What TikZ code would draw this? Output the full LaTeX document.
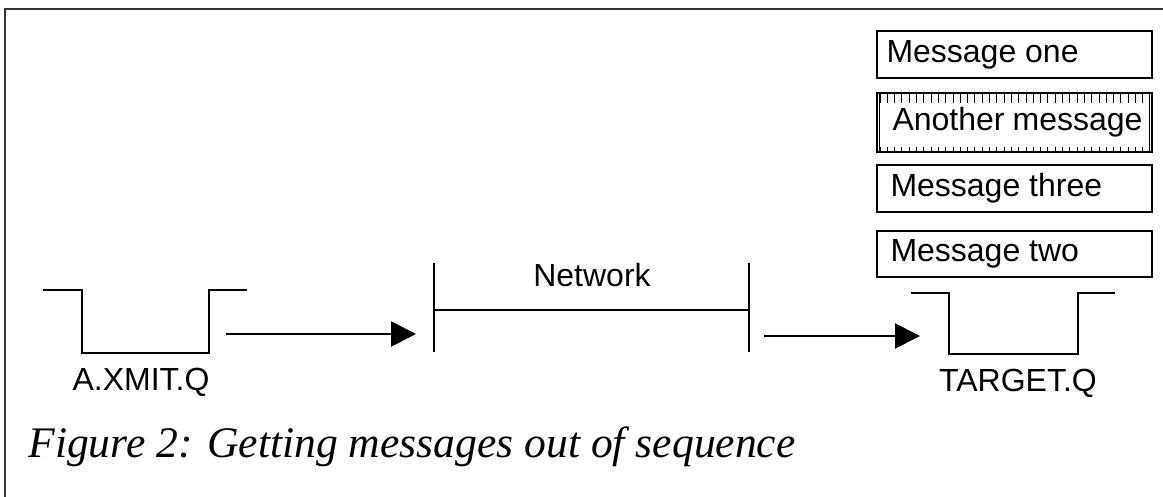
\documentclass[tikz,border=0pt]{standalone}
\usepackage{fontspec}
\setmainfont{Liberation Serif}
\setsansfont{Liberation Sans}
\usetikzlibrary{arrows.meta, positioning, calc}

\tikzset{
  msgbox/.style={draw, line width=1pt, minimum width=137.5pt, minimum height=23.5pt,
    text width=128pt, inner xsep=4.75pt, align=flush left, anchor=north},
  queue/.style={line width=1pt},
  flow/.style={line width=1pt, -{Triangle[length=12.5pt, width=12.5pt]}},
}

\begin{document}
\begin{tikzpicture}[x=0.5pt, y=-0.5pt, font=\sffamily\fontsize{16}{18}\selectfont]
                \useasboundingbox (0,0) rectangle (1163,497);
                % frame
                \draw[line width=1pt, black!80] (5,497) -- (5,9) -- (1163,9);

                % messages arriving at the target queue
                \node[msgbox] (msgone) at (1014.5,30) {Message one};
                \node[msgbox, minimum height=29.5pt, below=6.5pt of msgone] (msganother) {\hspace*{3pt}Another message};
                \node[msgbox, below=5.5pt of msganother] (msgthree) {\hspace*{2pt}Message three};
                \node[msgbox, minimum height=23pt, below=8.5pt of msgthree] (msgtwo) {\hspace*{2pt}Message two};
                % hatching of the out-of-sequence message
                \foreach \i in {0,...,36} {
                    \draw[line width=0.5pt] ($(msganother.north west)+(4+\i*7.3,0)$) -- ++(0,11);
                    \draw[line width=0.5pt] ($(msganother.south west)+(4+\i*7.3,0)$) -- ++(0,-6);
                }
                \draw[line width=0.5pt] ($(msganother.north west)+(3,0)$) -- ($(msganother.south west)+(3,0)$);
                \draw[line width=0.5pt] ($(msganother.north east)+(-4,0)$) -- ($(msganother.south east)+(-4,0)$);

                % transmission queue
                \draw[queue] (43,290) -- (82,290) -- (82,353) -- (209,353) -- (209,290) -- (247,290);
                \node (xmit) at (141,382) {A.XMIT.Q};
                \coordinate (xmitout) at (226,334);

                % network
                \coordinate (netin) at (416,334);
                \draw[queue] (434,263) -- (434,352);
                \draw[queue] (749,263) -- (749,352);
                \draw[queue] (434,310) -- (749,310);
                \node (net) at (592,275) {Network};
                \coordinate (netout) at (764,336);

                % target queue
                \coordinate (targetin) at (920,336);
                \draw[queue] (911,293) -- (949,293) -- (949,354) -- (1078,354) -- (1078,293) -- (1115,293);
                \node (target) at (1018,383) {TARGET.Q};

                \draw[flow] (xmitout) -- (netin);
                \draw[flow] (netout) -- (targetin);

                % caption
                \node[anchor=base west, inner sep=0pt, font=\rmfamily\itshape\fontsize{21.8}{26}\selectfont] (caption) at (28,458) {Figure 2: Getting messages out of sequence};
            \end{tikzpicture}
\end{document}
